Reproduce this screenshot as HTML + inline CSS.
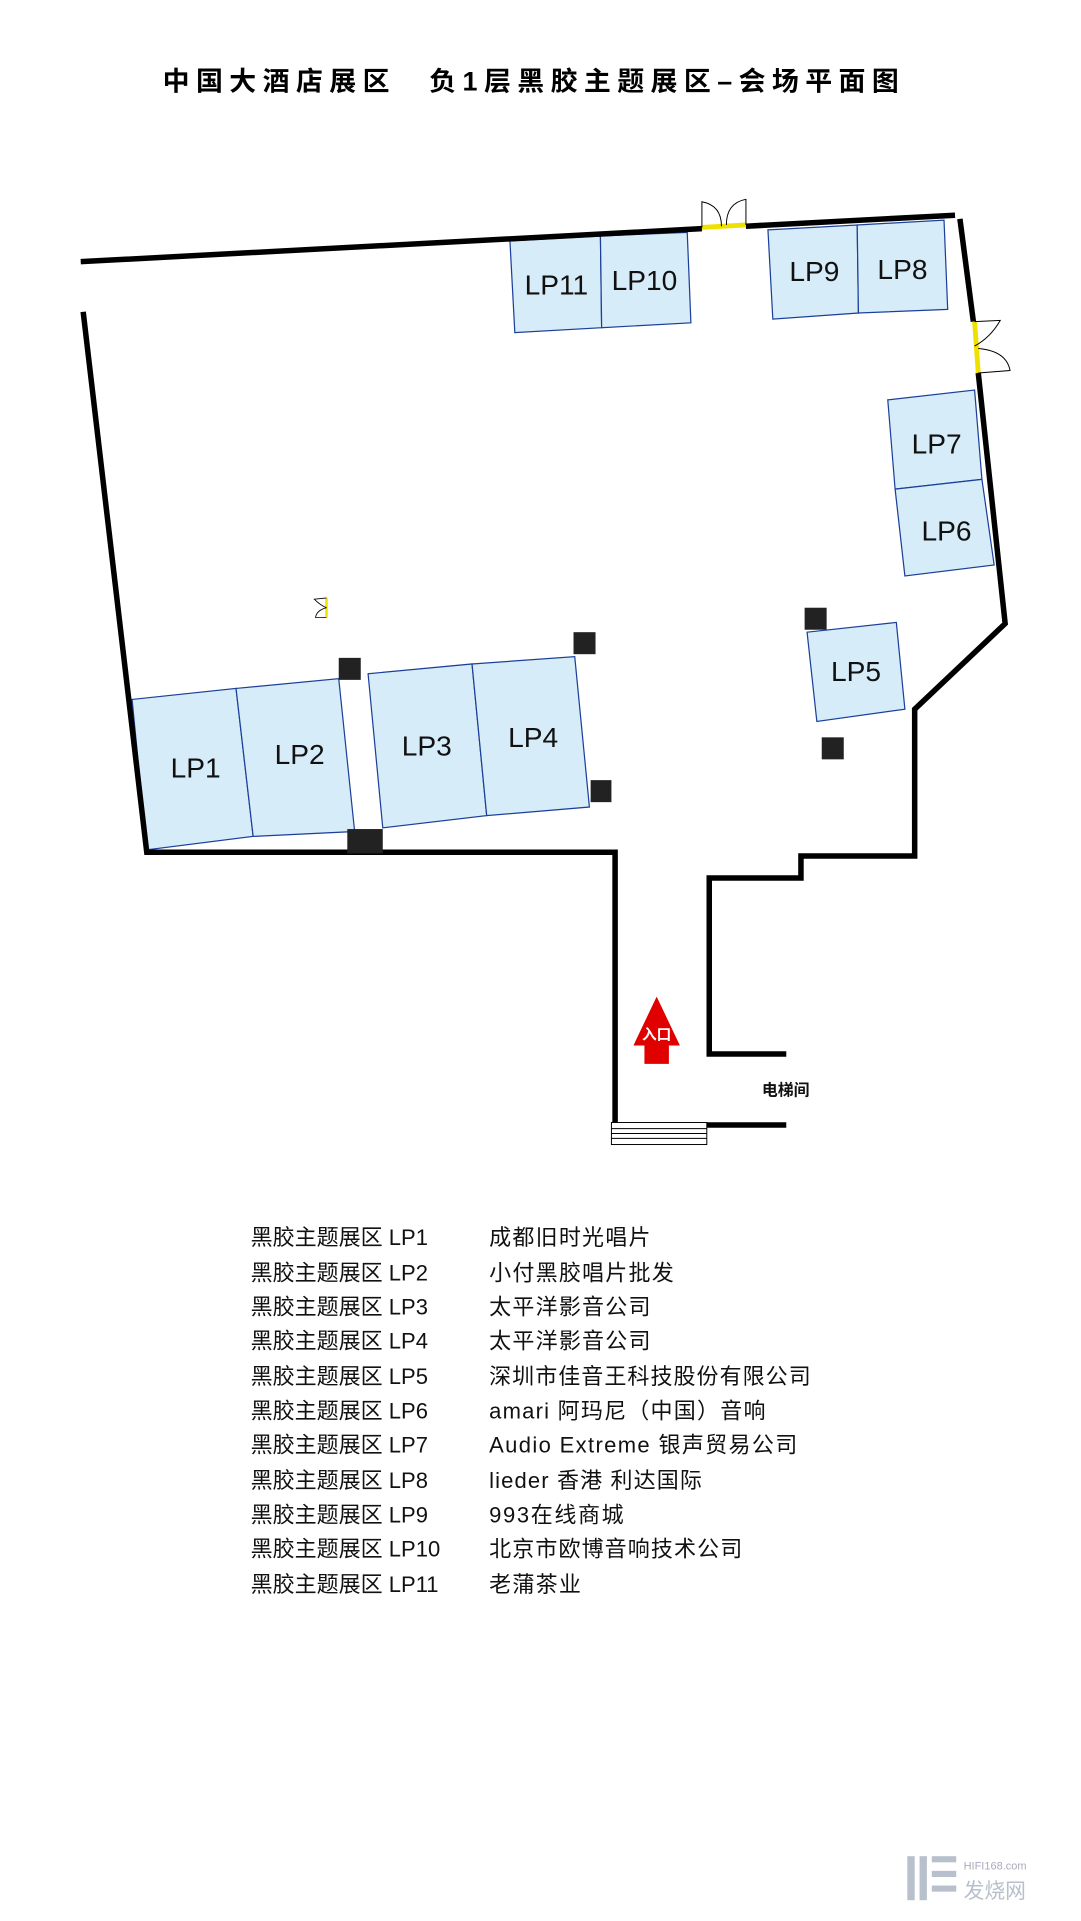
<!DOCTYPE html>
<html><head><meta charset="utf-8"><style>
html,body{margin:0;padding:0;background:#fff;}
svg{display:block;}
text{font-family:"Liberation Sans","Noto Sans CJK SC",sans-serif;}
</style></head><body>
<svg width="1081" height="1921" viewBox="0 0 884 1571" xmlns="http://www.w3.org/2000/svg">
<rect width="884" height="1571" fill="#fff"/>
<text x="133" y="74" font-size="22" font-weight="bold" fill="#000" stroke="none" textLength="602" lengthAdjust="spacing">中国大酒店展区　负1层黑胶主题展区–会场平面图</text>

<g fill="#d6ecf8" stroke="#1b3f9a" stroke-width="1">
<polygon points="417,197 491,193 492,268 421,272"/>
<polygon points="491,193 562,190 565,264 492,268"/>
<polygon points="628,188 701,184 702,256 632,261"/>
<polygon points="701,184 772,180 775,253 702,256"/>
<polygon points="726,327 797,319 803,392 732,400"/>
<polygon points="732,400 803,392 813,462 740,471"/>
<polygon points="660,517 733,509 740,580 668,590"/>
<polygon points="108,572 193,563 207,684 120,695"/>
<polygon points="193,563 277,555 290,680 207,684"/>
<polygon points="301,551 386,543 398,667 313,677"/>
<polygon points="386,543 470,537 482,660 398,667"/>
</g>
<g font-size="23" fill="#111" text-anchor="middle">
<text x="455" y="241">LP11</text><text x="527" y="237">LP10</text>
<text x="666" y="230">LP9</text><text x="738" y="228">LP8</text>
<text x="766" y="371">LP7</text><text x="774" y="442">LP6</text>
<text x="700" y="557">LP5</text>
<text x="160" y="636">LP1</text><text x="245" y="625">LP2</text>
<text x="349" y="618">LP3</text><text x="436" y="611">LP4</text>
</g>

<g fill="none" stroke="#000" stroke-width="4.5">
<line x1="66" y1="214" x2="574" y2="187"/>
<line x1="610" y1="185" x2="781" y2="176"/>
<polyline points="68,255 120,697 503,697 503,920"/>
<polyline points="785,179 796,263"/>
<polyline points="800,305 822,510 748,580 748,700 655,700 655,718 580,718 580,862 643,862"/>
<line x1="578" y1="920" x2="643" y2="920"/>
</g>
<line x1="574" y1="186" x2="610" y2="184" stroke="#f0e000" stroke-width="4"/>
<path d="M574,186 L574,165 Q590,168 590,185 M610,184 L610,163 Q594,166 594,184" fill="none" stroke="#000" stroke-width="0.8"/>
<line x1="797" y1="263" x2="800" y2="305" stroke="#f0e000" stroke-width="4"/>
<path d="M797,263 L818,262 Q810,276 797,283 M800,305 L826,303 Q823,287 800,285" fill="none" stroke="#000" stroke-width="0.8"/>
<line x1="267" y1="489" x2="267" y2="505" stroke="#f0e000" stroke-width="2"/>
<path d="M267,489 L257,490 Q262,495 267,497 M267,505 L258,505 Q259,499 267,497" fill="none" stroke="#000" stroke-width="0.7"/>

<g fill="#222">
<rect x="658" y="497" width="18" height="18"/>
<rect x="672" y="603" width="18" height="18"/>
<rect x="469" y="517" width="18" height="18"/>
<rect x="483" y="638" width="17" height="18"/>
<rect x="277" y="538" width="18" height="18"/>
<rect x="284" y="678" width="29" height="20"/>
</g>

<g fill="#fff" stroke="#000" stroke-width="0.8">
<rect x="500" y="918" width="78" height="18"/>
<line x1="500" y1="923" x2="578" y2="923"/><line x1="500" y1="927" x2="578" y2="927"/><line x1="500" y1="931" x2="578" y2="931"/>
</g>

<polygon points="537,815 556,855 547,855 547,870 527,870 527,855 518,855" fill="#e00000"/>
<text x="537" y="850" text-anchor="middle" font-size="12" font-weight="bold" fill="#fff">入口</text>
<text x="623" y="896" font-size="13" font-weight="bold" fill="#111">电梯间</text>

<g font-size="18" fill="#111">
<text x="205" y="1018">黑胶主题展区 LP1</text><text x="400" y="1018" textLength="132">成都旧时光唱片</text>
<text x="205" y="1047">黑胶主题展区 LP2</text><text x="400" y="1047" textLength="151">小付黑胶唱片批发</text>
<text x="205" y="1075">黑胶主题展区 LP3</text><text x="400" y="1075" textLength="132">太平洋影音公司</text>
<text x="205" y="1103">黑胶主题展区 LP4</text><text x="400" y="1103" textLength="132">太平洋影音公司</text>
<text x="205" y="1132">黑胶主题展区 LP5</text><text x="400" y="1132" textLength="263">深圳市佳音王科技股份有限公司</text>
<text x="205" y="1160">黑胶主题展区 LP6</text><text x="400" y="1160" textLength="226">amari 阿玛尼（中国）音响</text>
<text x="205" y="1188">黑胶主题展区 LP7</text><text x="400" y="1188" textLength="252">Audio Extreme 银声贸易公司</text>
<text x="205" y="1217">黑胶主题展区 LP8</text><text x="400" y="1217" textLength="174">lieder 香港 利达国际</text>
<text x="205" y="1245">黑胶主题展区 LP9</text><text x="400" y="1245" textLength="110">993在线商城</text>
<text x="205" y="1273">黑胶主题展区 LP10</text><text x="400" y="1273" textLength="207">北京市欧博音响技术公司</text>
<text x="205" y="1302">黑胶主题展区 LP11</text><text x="400" y="1302" textLength="75">老蒲茶业</text>
</g>

<g fill="#b8c0cc">
<rect x="742" y="1518" width="6" height="36"/>
<rect x="752" y="1518" width="6" height="36"/>
<rect x="762" y="1518" width="20" height="5"/>
<rect x="762" y="1530" width="20" height="5"/>
<rect x="762" y="1542" width="20" height="5"/>
</g>
<text x="788" y="1529" font-size="9" fill="#aab">HIFI168.com</text>
<text x="788" y="1552" font-size="17" fill="#b8c0cc">发烧网</text>
</svg>
</body></html>
